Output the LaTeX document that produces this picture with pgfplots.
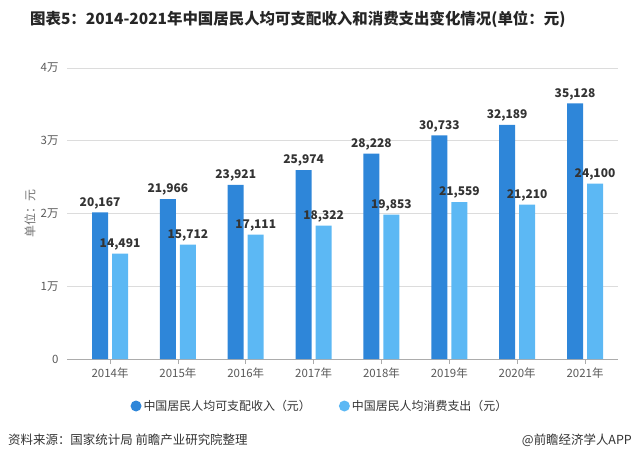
\documentclass[border=0pt]{standalone}
\usepackage{fontspec}
\setmainfont{Noto Sans CJK SC}
\usepackage{pgfplots}
\pgfplotsset{compat=1.18}
\definecolor{incBlue}{RGB}{46,134,217}
\definecolor{conBlue}{RGB}{92,184,244}
\definecolor{txtGray}{RGB}{89,89,89}
\definecolor{gridGray}{RGB}{220,220,220}

\begin{document}
\begin{tikzpicture}[x=1bp,y=1bp]
\useasboundingbox (0,0) rectangle (637,-462);
\node[anchor=west, inner sep=0, font=\fontsize{15.5}{16}\selectfont\bfseries, text=black!85]
  at (30,-19) {图表5：2014-2021年中国居民人均可支配收入和消费支出变化情况(单位：元)};
\begin{axis}[
  at={(67bp,-359bp)}, anchor=south west,
  scale only axis, width=551bp, height=291bp,
  ybar=4bp, bar width=16bp,
  xmin=-0.634, xmax=7.486,
  ymin=0, ymax=40000,
  scaled y ticks=false,
  xtick={0,...,7},
  xticklabels={2014年,2015年,2016年,2017年,2018年,2019年,2020年,2021年},
  ytick={0,10000,20000,30000,40000},
  yticklabels={0,1万,2万,3万,4万},
  axis x line*=bottom, axis y line*=left,
  y axis line style={draw=none},
  x axis line style={draw=gray!65, line width=0.7pt, -},
  ytick style={draw=none},
  xtick style={draw=gray!65, line width=0.7pt},
  tick align=outside, major tick length=5bp,
  ymajorgrids, grid style={gridGray, line width=0.7pt},
  xticklabel style={font=\fontsize{11.5}{12}\selectfont, text=txtGray},
  yticklabel style={font=\fontsize{11.5}{12}\selectfont, text=txtGray},
  ylabel={单位：元},
  ylabel style={at={(axis description cs:-0.067,0.5)}, anchor=center,
    font=\fontsize{12}{12}\selectfont, text=txtGray!85},
  nodes near coords,
  every node near coord/.append style={font=\fontsize{12}{12}\selectfont\bfseries,
    text=black!80, /pgf/number format/.cd, fixed, precision=0, 1000 sep={,},
    assume math mode=true},
  legend style={at={(0.459,-0.1615)}, anchor=center, draw=none, fill=none,
    font=\fontsize{12}{12}\selectfont, text=black!80,
    legend columns=2, /tikz/every even column/.append style={column sep=26bp}},
  legend image code/.code={\fill[#1] (0bp,0bp) circle (5.5bp);},
]
\addplot[fill=incBlue, draw=none] coordinates {
  (0,20167) (1,21966) (2,23921) (3,25974) (4,28228) (5,30733) (6,32189) (7,35128)};
\addplot[fill=conBlue, draw=none] coordinates {
  (0,14491) (1,15712) (2,17111) (3,18322) (4,19853) (5,21559) (6,21210) (7,24100)};
\legend{中国居民人均可支配收入（元）, 中国居民人均消费支出（元）}
\end{axis}
\node[anchor=west, inner sep=0, font=\fontsize{12.5}{13}\selectfont, text=black!80]
  at (8,-440) {资料来源：国家统计局 前瞻产业研究院整理};
\node[anchor=east, inner sep=0, font=\fontsize{12.5}{13}\selectfont, text=black!80]
  at (632,-440) {@前瞻经济学人APP};
\end{tikzpicture}
\end{document}
